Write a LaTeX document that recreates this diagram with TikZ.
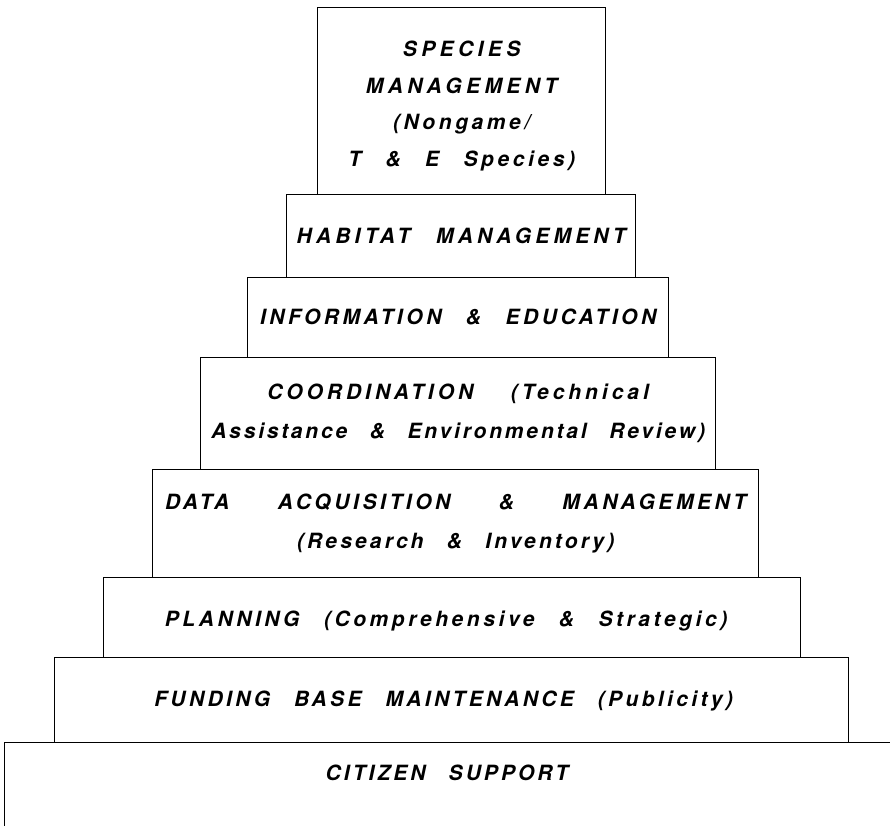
\documentclass[tikz,border=0pt]{standalone}
\usepackage{fontspec}
\setmainfont{TeX Gyre Heros}
\newfontfamily\tierfont[LetterSpace=17,WordSpace=2.6]{TeX Gyre Heros}
\newcommand{\widegap}{\hspace{12pt}}
\newcommand{\spacing}[1]{\addfontfeature{LetterSpace=#1}}
\usetikzlibrary{positioning}

\begin{document}
\begin{tikzpicture}[x=1pt, y=1pt,
    every node/.style = {align=center,
      font=\tierfont\bfseries\itshape\fontsize{21}{39}\selectfont},
    tier/.style = {draw, line width=1.3pt, anchor=south west, inner sep=0pt}]
  \useasboundingbox (0,0) rectangle (890,825);
  \clip (0,0) rectangle (890,825);
  \node[tier, minimum width=288, minimum height=187] (species) at (317,630) {};
  \node[font=\tierfont\bfseries\itshape\fontsize{21}{36.5}\selectfont]
    (speciestext) at ([yshift=-5pt]species.center)
    {\spacing{21}SPECIES\\\spacing{21}MANAGEMENT\\(Nongame/\\T \& E Species)};
  \node[tier, minimum width=349, minimum height=83] (habitat) at (286,547)
    {\spacing{20}HABITAT MANAGEMENT};
  \node[tier, minimum width=421, minimum height=80] (info) at (247,467)
    {INFORMATION \& EDUCATION};
  \node[tier, minimum width=515, minimum height=112] (coord) at (200,355)
    {\spacing{19}COORDINATION \widegap(Technical\\\spacing{13.5}Assistance \& Environmental Review)};
  \node[tier, minimum width=606, minimum height=108] (data) at (152,247)
    {DATA \widegap\widegap ACQUISITION \widegap\widegap\& \widegap\widegap MANAGEMENT\\\spacing{15}(Research \& Inventory)};
  \node[tier, minimum width=697, minimum height=80] (planning) at (103,167) {};
  \node (planningtext) at ([shift={(-6,-4)}]planning.center)
    {PLANNING (Comprehensive \& Strategic)};
  \node[tier, minimum width=794, minimum height=85] (funding) at (54,82) {};
  \node (fundingtext) at ([shift={(-8,-1)}]funding.center)
    {\spacing{16}FUNDING BASE MAINTENANCE (Publicity)};
  \node[tier, minimum width=900, minimum height=110] (citizen) at (4,-28) {};
  \node (citizentext) at (447,52) {\spacing{14.5}CITIZEN SUPPORT};
\end{tikzpicture}
\end{document}
